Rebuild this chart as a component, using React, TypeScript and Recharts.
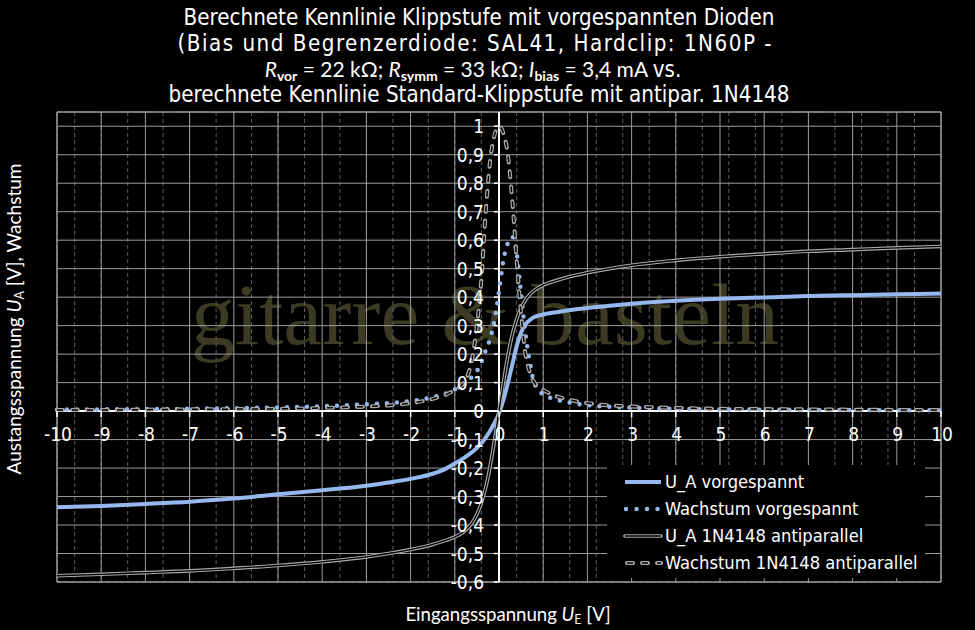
import React from 'react';
import {
  LineChart,
  Line,
  XAxis,
  YAxis,
  CartesianGrid,
  ReferenceLine,
  ReferenceDot,
  ReferenceArea,
  Legend,
} from 'recharts';

// ---------- data ----------
const xValues = [
  -10, -9, -8, -7, -6, -5, -4, -3, -2.5, -2, -1.5, -1.2, -1, -0.8, -0.6, -0.5, -0.4, -0.3, -0.2, -0.1,
  0, 0.1, 0.2, 0.3, 0.4, 0.5, 0.6, 0.7, 0.8, 1, 1.2, 1.5, 2, 2.5, 3, 4, 5, 6, 7, 8, 9, 10,
];

// U_A vorgespannt
const uaBias = [
  -0.338, -0.333, -0.326, -0.318, -0.307, -0.292, -0.278, -0.262, -0.251, -0.238, -0.22, -0.202, -0.184, -0.165,
  -0.143, -0.129, -0.113, -0.093, -0.069, -0.041, -0.008, 0.04, 0.098, 0.163, 0.228, 0.276, 0.305, 0.32, 0.33,
  0.339, 0.345, 0.352, 0.362, 0.37, 0.377, 0.387, 0.394, 0.399, 0.404, 0.407, 0.41, 0.413,
];

// Wachstum vorgespannt
const wBias = [
  0.005, 0.006, 0.007, 0.008, 0.01, 0.013, 0.017, 0.024, 0.028, 0.035, 0.049, 0.062, 0.076, 0.096, 0.122, 0.14,
  0.172, 0.213, 0.255, 0.32, 0.42, 0.53, 0.59, 0.612, 0.555, 0.41, 0.27, 0.17, 0.098, 0.058, 0.045, 0.033, 0.021,
  0.015, 0.012, 0.008, 0.006, 0.005, 0.004, 0.004, 0.003, 0.003,
];

// U_A 1N4148 antiparallel
const uaStd = [
  -0.578, -0.573, -0.567, -0.561, -0.552, -0.542, -0.529, -0.512, -0.5, -0.486, -0.468, -0.454, -0.442, -0.424,
  -0.39, -0.362, -0.323, -0.268, -0.193, -0.1, 0, 0.1, 0.193, 0.268, 0.323, 0.362, 0.39, 0.41, 0.424, 0.442, 0.454,
  0.468, 0.486, 0.5, 0.512, 0.529, 0.542, 0.552, 0.561, 0.567, 0.573, 0.578,
];

// Wachstum 1N4148 antiparallel
const wStd = [
  0.004, 0.004, 0.005, 0.006, 0.007, 0.008, 0.011, 0.016, 0.02, 0.028, 0.043, 0.058, 0.075, 0.1, 0.19, 0.3, 0.46,
  0.7, 0.88, 0.97, 1.0, 0.975, 0.9, 0.74, 0.53, 0.34, 0.2, 0.135, 0.1, 0.075, 0.058, 0.043, 0.028, 0.02, 0.016,
  0.011, 0.008, 0.007, 0.006, 0.005, 0.004, 0.004,
];

const xMajorTicks = [-10, -9, -8, -7, -6, -5, -4, -3, -2, -1, 0, 1, 2, 3, 4, 5, 6, 7, 8, 9, 10];
const xTickLabels = ['-10', '-9', '-8', '-7', '-6', '-5', '-4', '-3', '-2', '-1', '0', '1', '2', '3', '4', '5', '6', '7', '8', '9', '10'];
const yMajorTicks = [-0.6, -0.5, -0.4, -0.3, -0.2, -0.1, 0, 0.1, 0.2, 0.3, 0.4, 0.5, 0.6, 0.7, 0.8, 0.9, 1];
const yTickLabels = ['-0,6', '-0,5', '-0,4', '-0,3', '-0,2', '-0,1', '0', '0,1', '0,2', '0,3', '0,4', '0,5', '0,6', '0,7', '0,8', '0,9', '1'];

const X_DOMAIN: [number, number] = [-10, 10];
const Y_DOMAIN: [number, number] = [-0.6, 1.05];
const X_MINOR_STEP = 0.2;
const Y_MINOR_STEP = 0.025;

const xMinorTicks: number[] = [];
for (let i = 0; i <= Math.round((X_DOMAIN[1] - X_DOMAIN[0]) / X_MINOR_STEP); i++) {
  xMinorTicks.push(+(X_DOMAIN[0] + i * X_MINOR_STEP).toFixed(3));
}
const yMinorTicks: number[] = [];
for (let i = 0; i <= Math.round((Y_DOMAIN[1] - Y_DOMAIN[0]) / Y_MINOR_STEP); i++) {
  yMinorTicks.push(+(Y_DOMAIN[0] + i * Y_MINOR_STEP).toFixed(4));
}

const tableData = xValues.map((x, i) => ({
  x,
  uaBias: uaBias[i],
  wBias: wBias[i],
  uaStd: uaStd[i],
  wStd: wStd[i],
}));

// ---------- styles ----------
const BLUE = '#95b8ee';
const GRAY = '#a9a9a9';
const TICK_FONT = '"DejaVu Sans Condensed", "DejaVu Sans", sans-serif';
const TITLE_FONT = '"DejaVu Sans Condensed", "DejaVu Sans", sans-serif';
const AXIS_TITLE_FONT = 'Lato, "Open Sans", sans-serif';
const DASH = '6 9';

const legendItems = [
  { key: 'uaBias', label: 'U_A vorgespannt', kind: 'solid' },
  { key: 'wBias', label: 'Wachstum vorgespannt', kind: 'dots' },
  { key: 'uaStd', label: 'U_A 1N4148 antiparallel', kind: 'double' },
  { key: 'wStd', label: 'Wachstum 1N4148 antiparallel', kind: 'doubleDash' },
];

function LegendSample({ kind }: { kind: string }) {
  const y = 6;
  return (
    <svg width={40} height={12} style={{ display: 'block' }}>
      {kind === 'solid' && <line x1={2} y1={y} x2={38} y2={y} stroke={BLUE} strokeWidth={4} />}
      {kind === 'dots' && (
        <line x1={3} y1={y} x2={38} y2={y} stroke={BLUE} strokeWidth={4.5} strokeDasharray="0 10.5" strokeLinecap="round" />
      )}
      {kind === 'double' && (
        <g>
          <line x1={2} y1={y} x2={38} y2={y} stroke={GRAY} strokeWidth={3.6} strokeLinecap="round" />
          <line x1={2} y1={y} x2={38} y2={y} stroke="#000" strokeWidth={1.3} />
        </g>
      )}
      {kind === 'doubleDash' && (
        <g>
          <line x1={4} y1={y} x2={38} y2={y} stroke={GRAY} strokeWidth={4} strokeDasharray={DASH} strokeLinecap="round" />
          <line x1={4} y1={y} x2={38} y2={y} stroke="#000" strokeWidth={1.5} strokeDasharray={DASH} />
        </g>
      )}
    </svg>
  );
}

function LegendContent() {
  return (
    <div style={{ background: '#000', width: '100%', height: '100%', paddingTop: 3, boxSizing: 'border-box' }}>
      {legendItems.map((it) => (
        <div key={it.key} style={{ display: 'flex', alignItems: 'center', height: 27, paddingLeft: 16 }}>
          <LegendSample kind={it.kind} />
          <span style={{ color: '#fff', fontFamily: TICK_FONT, fontSize: 18.2, marginLeft: 2, whiteSpace: 'nowrap' }}>{it.label}</span>
        </div>
      ))}
    </div>
  );
}

const xTickShape = (label: string) => (props: any) => {
  const { cx, cy } = props;
  return (
    <g>
      <line x1={cx} y1={cy} x2={cx} y2={cy + 6} stroke="#fff" strokeWidth={1.5} />
      <text x={cx + 1} y={cy + 30} textAnchor="middle" fill="#fff" fontFamily={TICK_FONT} fontSize={19}>
        {label}
      </text>
    </g>
  );
};

const yTickShape = (label: string) => (props: any) => {
  const { cx, cy } = props;
  return (
    <g>
      <line x1={cx - 5} y1={cy} x2={cx} y2={cy} stroke="#fff" strokeWidth={1.5} />
      <text x={cx - 15} y={cy + 7} textAnchor="end" fill="#fff" fontFamily={TICK_FONT} fontSize={19}>
        {label}
      </text>
    </g>
  );
};

export default function App() {
  return (
    <div style={{ position: 'relative', width: 975, height: 630, background: '#000', overflow: 'hidden' }}>
      <style>{'body{margin:0;background:#000;}'}</style>
      {/* watermark behind the plot */}
      <svg width={975} height={630} style={{ position: 'absolute', left: 0, top: 0 }}>
        <text x={191} y={344} fontFamily='"Liberation Serif", serif' fontSize={87.5} fill="#3b3a22">
          gitarre &amp; basteln
        </text>
      </svg>
      <LineChart
        width={975}
        height={630}
        data={tableData}
        margin={{ top: 112, right: 34, bottom: 48, left: 57 }}
        style={{ position: 'relative' }}
      >
        <XAxis xAxisId="minor" type="number" dataKey="x" domain={X_DOMAIN} ticks={xMinorTicks} hide />
        <YAxis yAxisId="minor" type="number" domain={Y_DOMAIN} ticks={yMinorTicks} hide />
        <XAxis type="number" dataKey="x" domain={X_DOMAIN} ticks={xMajorTicks} hide />
        <YAxis type="number" domain={Y_DOMAIN} ticks={yMajorTicks} hide allowDataOverflow />
        <CartesianGrid xAxisId="minor" yAxisId="minor" stroke="#5e5e5e" strokeDasharray="4 3" />
        <CartesianGrid stroke="#9c9c9c" />
        <ReferenceArea x1={X_DOMAIN[0]} x2={X_DOMAIN[1]} y1={Y_DOMAIN[0]} y2={Y_DOMAIN[1]} fill="none" stroke="#9c9c9c" fillOpacity={0} />
        <ReferenceLine y={0} stroke="#fff" strokeWidth={2} />
        <ReferenceLine x={0} stroke="#fff" strokeWidth={2} />
        {xMajorTicks.map((v, i) => (
          <ReferenceDot key={'xt' + v} x={v} y={0} r={0} shape={xTickShape(xTickLabels[i])} />
        ))}
        {yMajorTicks.map((v, i) => (
          <ReferenceDot key={'yt' + v} x={0} y={v} r={0} shape={yTickShape(yTickLabels[i])} />
        ))}
        <Line dataKey="uaBias" name="U_A vorgespannt" type="monotone" stroke={BLUE} strokeWidth={4} dot={false} activeDot={false} isAnimationActive={false} />
        <Line
          dataKey="wBias"
          name="Wachstum vorgespannt"
          type="monotone"
          stroke={BLUE}
          strokeWidth={4.5}
          strokeDasharray="0 10"
          strokeLinecap="round"
          dot={false}
          activeDot={false}
          isAnimationActive={false}
        />
        <Line dataKey="uaStd" name="U_A 1N4148 antiparallel" type="monotone" stroke={GRAY} strokeWidth={3.6} dot={false} activeDot={false} isAnimationActive={false} />
        <Line dataKey="uaStd" legendType="none" type="monotone" stroke="#000" strokeWidth={1.3} dot={false} activeDot={false} isAnimationActive={false} />
        <Line
          dataKey="wStd"
          name="Wachstum 1N4148 antiparallel"
          type="monotone"
          stroke={GRAY}
          strokeWidth={4}
          strokeDasharray={DASH}
          strokeLinecap="round"
          dot={false}
          activeDot={false}
          isAnimationActive={false}
        />
        <Line
          dataKey="wStd"
          legendType="none"
          type="monotone"
          stroke="#000"
          strokeWidth={1.5}
          strokeDasharray={DASH}
          dot={false}
          activeDot={false}
          isAnimationActive={false}
        />
        <Legend
          layout="horizontal"
          verticalAlign="middle"
          align="center"
          content={<LegendContent />}
          wrapperStyle={{ position: 'absolute', left: 607, top: 465, width: 318, height: 113, margin: 0 }}
        />
      </LineChart>
      {/* titles */}
      <svg width={975} height={630} style={{ position: 'absolute', left: 0, top: 0, pointerEvents: 'none' }}>
        <g fill="#fff" fontFamily={TITLE_FONT} fontSize={22.2} textAnchor="middle">
          <text x={479} y={25}>Berechnete Kennlinie Klippstufe mit vorgespannten Dioden</text>
          <text x={474.5} y={51} textLength={594} lengthAdjust="spacing">
            (Bias und Begrenzerdiode: SAL41, Hardclip: 1N60P -
          </text>
          <text x={473} y={77} fontFamily={AXIS_TITLE_FONT} fontSize={21}>
            <tspan fontStyle="italic">R</tspan>
            <tspan dy={4} fontSize={14} fontWeight="bold">vor</tspan>
            <tspan dy={-4}>{' = 22 kΩ; '}</tspan>
            <tspan fontStyle="italic">R</tspan>
            <tspan dy={4} fontSize={14} fontWeight="bold">symm</tspan>
            <tspan dy={-4}>{' = 33 kΩ; '}</tspan>
            <tspan fontStyle="italic">I</tspan>
            <tspan dy={4} fontSize={14} fontWeight="bold">bias</tspan>
            <tspan dy={-4}>{' = 3,4 mA '}</tspan>
            <tspan fontFamily={TITLE_FONT} fontSize={22.2}>vs.</tspan>
          </text>
          <text x={479} y={102}>berechnete Kennlinie Standard-Klippstufe mit antipar. 1N4148</text>
        </g>
        <text x={508} y={621} fill="#fff" fontFamily={AXIS_TITLE_FONT} fontSize={18.6} textAnchor="middle">
          Eingangsspannung <tspan fontStyle="italic">U</tspan>
          <tspan dy={3} fontSize={12.5}>E</tspan>
          <tspan dy={-3}> [V]</tspan>
        </text>
        <text
          transform="rotate(-90)"
          x={-319}
          y={21}
          fill="#fff"
          fontFamily={AXIS_TITLE_FONT}
          fontSize={19}
          textAnchor="middle"
        >
          Austangsspannung <tspan fontStyle="italic">U</tspan>
          <tspan dy={3} fontSize={12.5}>A</tspan>
          <tspan dy={-3}> [V], Wachstum</tspan>
        </text>
      </svg>
    </div>
  );
}
